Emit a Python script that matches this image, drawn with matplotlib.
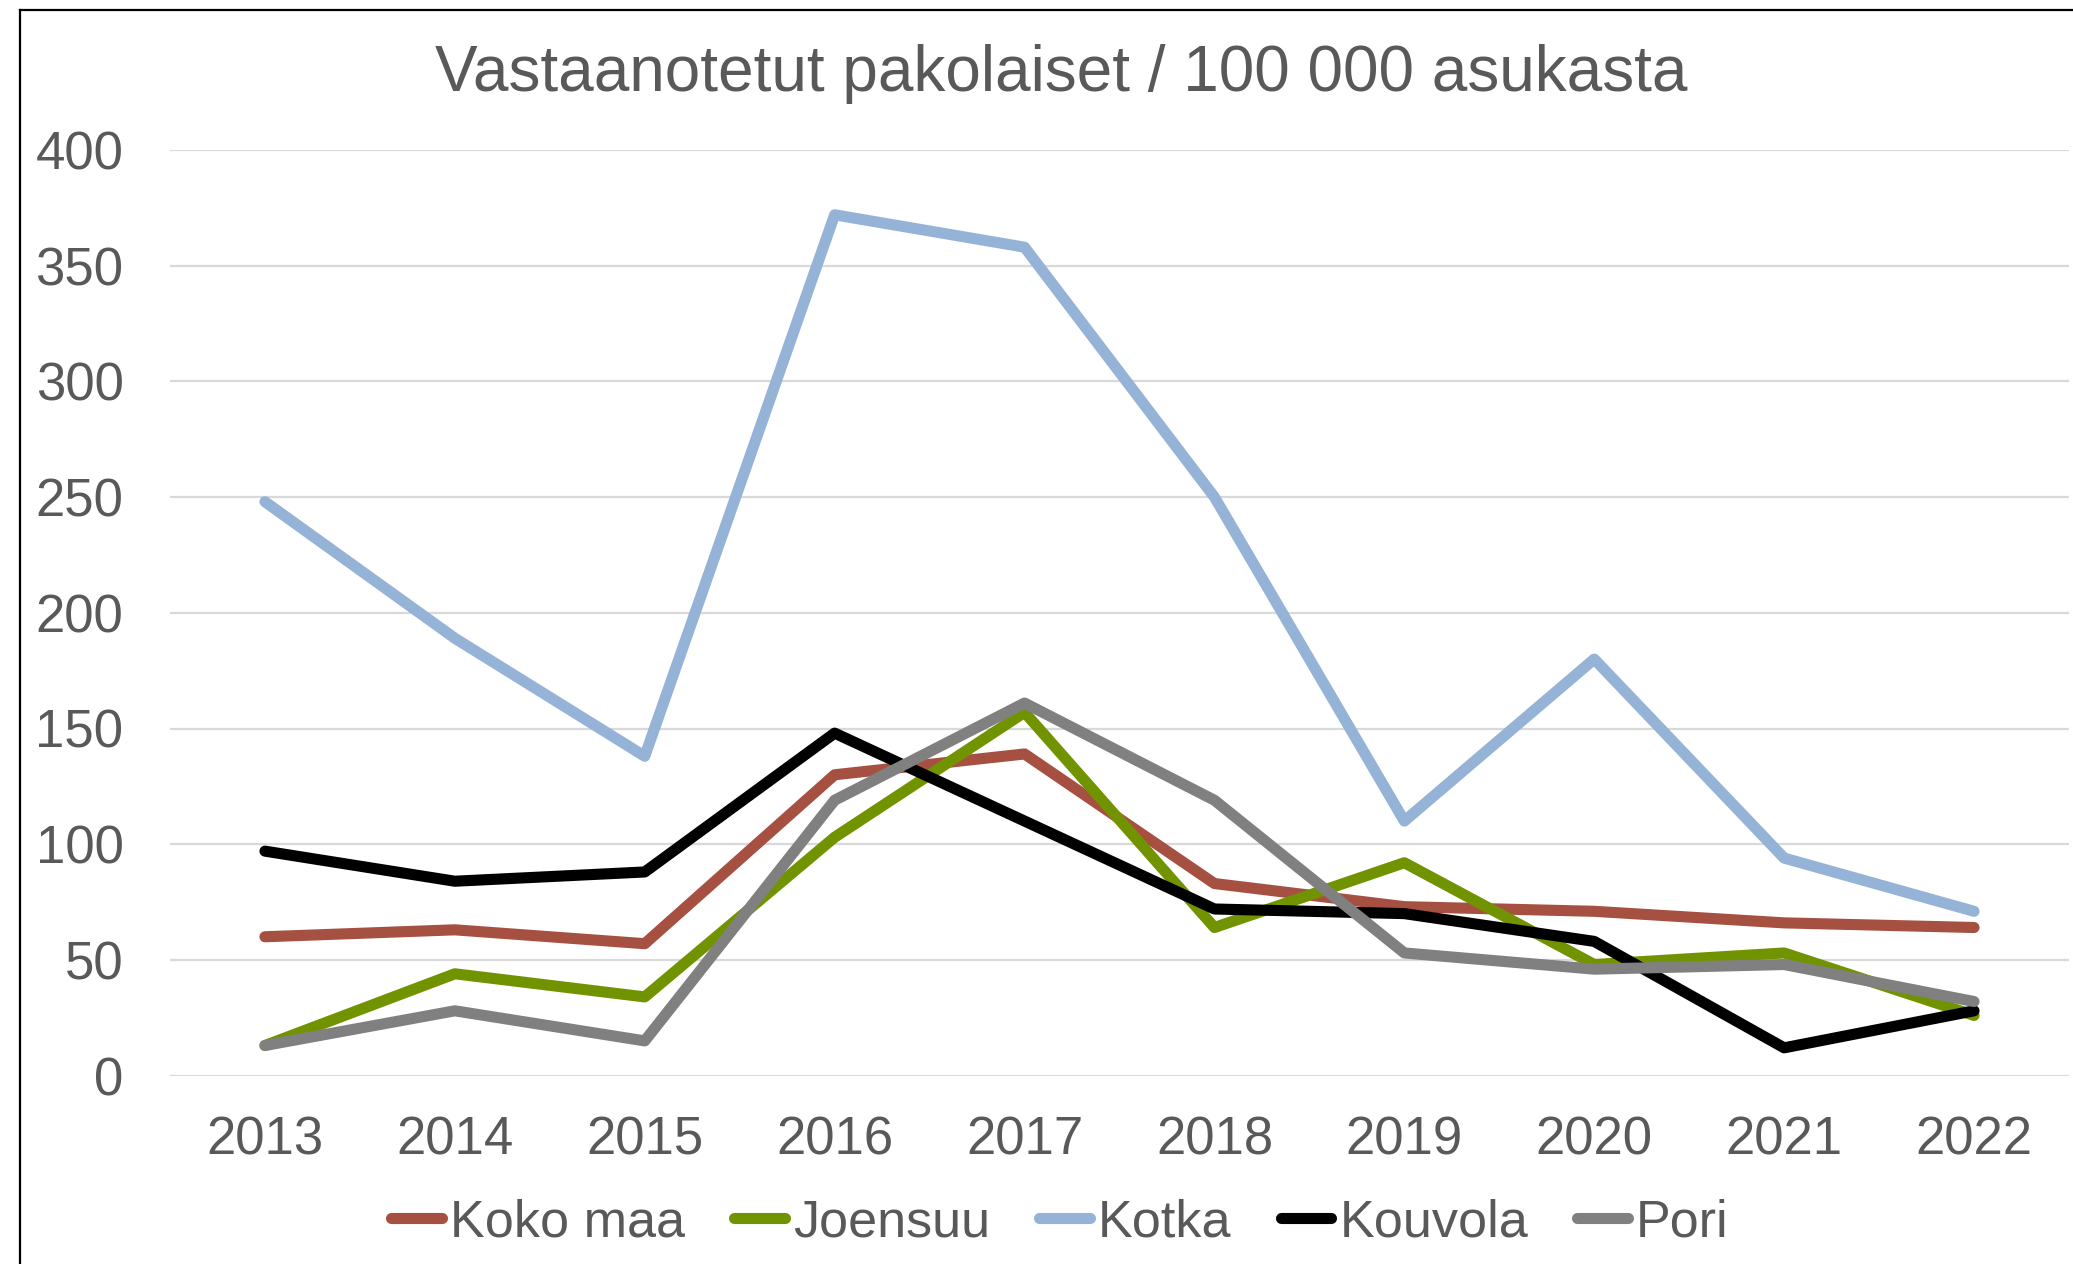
"""Vastaanotetut pakolaiset / 100 000 asukasta -viivakaavio."""

import matplotlib

matplotlib.use("Agg")
import matplotlib.pyplot as plt
from matplotlib.lines import Line2D

years = ["2013", "2014", "2015", "2016", "2017", "2018", "2019", "2020", "2021", "2022"]

koko_maa = [60, 63, 57, 130, 139, 83, 73, 71, 66, 64]
joensuu = [13, 44, 34, 103, 157, 64, 92, 48, 53, 26]
kotka = [248, 189, 138, 372, 358, 250, 110, 180, 94, 71]
kouvola = [97, 84, 88, 148, 110, 72, 70, 58, 12, 28]
pori = [13, 28, 15, 119, 161, 119, 53, 46, 48, 32]

series = [
    ("Koko maa", koko_maa, "#A65042"),
    ("Joensuu", joensuu, "#729300"),
    ("Kotka", kotka, "#95B3D7"),
    ("Kouvola", kouvola, "#000000"),
    ("Pori", pori, "#808080"),
]

plt.rcParams["font.family"] = ["Liberation Sans", "DejaVu Sans"]
text_color = "#595959"

W, H = 2073, 1264
fig = plt.figure(figsize=(W / 100, H / 100), dpi=100)
left, right, top, bottom = 170, 2069, 150, 1075.6
ax = fig.add_axes([left / W, 1 - bottom / H, (right - left) / W, (bottom - top) / H])

x = list(range(len(years)))
for name, values, color in series:
    ax.plot(x, values, color=color, linewidth=8, label=name,
            solid_capstyle="round", solid_joinstyle="round")

ax.set_xlim(-0.5, len(years) - 0.5)
ax.set_ylim(0, 400)
ax.set_yticks(range(0, 401, 50))
ax.set_xticks(x)
ax.set_xticklabels(years)
ax.grid(axis="y", color="#D9D9D9", linewidth=1.6)
ax.set_axisbelow(True)
for s in ax.spines.values():
    s.set_visible(False)
ax.tick_params(axis="both", length=0, labelsize=38, labelcolor=text_color)
ax.tick_params(axis="y", pad=33.5)
ax.tick_params(axis="x", pad=29)

fig.text(1061 / W, 1 - 91 / H, "Vastaanotetut pakolaiset / 100 000 asukasta",
         ha="center", va="baseline", fontsize=46, color=text_color)

fig.legend(loc="center", bbox_to_anchor=(1060 / W, 1 - 1223 / H), ncol=5,
           frameon=False, fontsize=37.5, labelcolor=text_color,
           handlelength=0.97, handletextpad=0.16, columnspacing=0.94,
           borderpad=0, borderaxespad=0)

# kaavioalueen reunaviiva (oikea ja ala rajautuvat pois)
fig.add_artist(Line2D([20 / W, 20 / W], [0, 1 - 10 / H], color="black", linewidth=1.6))
fig.add_artist(Line2D([20 / W, 1], [1 - 10 / H, 1 - 10 / H], color="black", linewidth=1.6))

fig.savefig("out.png", dpi=100)
plt.close(fig)
